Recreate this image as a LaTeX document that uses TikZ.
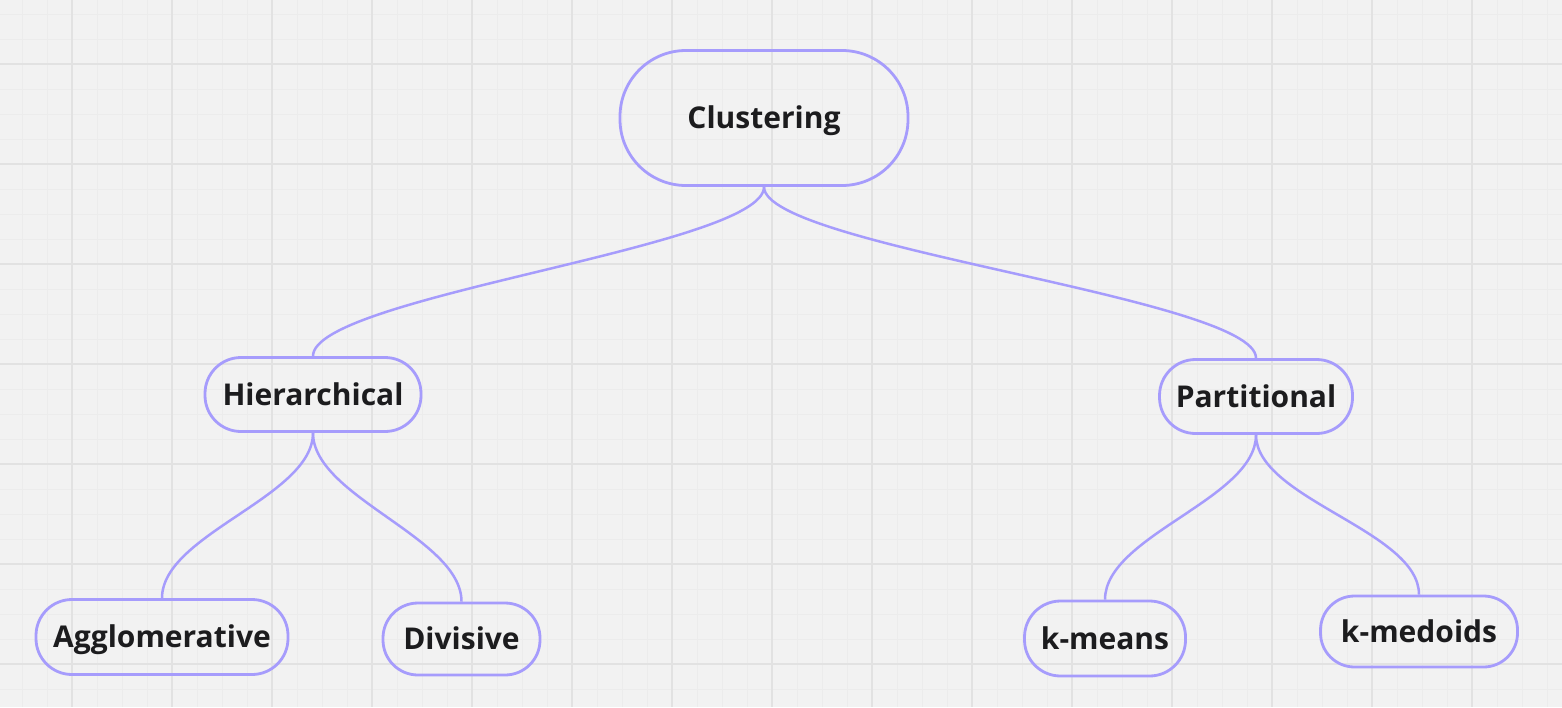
\documentclass[tikz,border=0pt]{standalone}
\usepackage{fontspec}
\setmainfont{Open Sans}
\definecolor{bgc}{RGB}{242,242,242}
\definecolor{minorc}{RGB}{236,236,236}
\definecolor{majorc}{RGB}{226,226,226}
\definecolor{lav}{RGB}{166,156,252}
\definecolor{txt}{RGB}{28,28,30}
\tikzset{
  pill/.style={draw=lav, line width=2.8pt, inner sep=0pt, text=txt,
    font=\fontsize{30}{36}\selectfont\bfseries, text height=21.4pt, text depth=0pt},
  link/.style={draw=lav, line width=2.5pt}
}
\begin{document}
\begin{tikzpicture}[x=1pt,y=-1pt]
\useasboundingbox (0,0) rectangle (1562,707);
\fill[bgc] (0,0) rectangle (1562,707);
% minor grid
\foreach \x in {-3,22,...,1562} \draw[minorc, line width=1pt] (\x,0) -- (\x,707);
\foreach \y in {14,39,...,707} \draw[minorc, line width=1pt] (0,\y) -- (1562,\y);
% major grid
\foreach \x in {72,172,...,1562} \draw[majorc, line width=1.3pt] (\x,0) -- (\x,707);
\foreach \y in {64,164,...,707} \draw[majorc, line width=1.3pt] (0,\y) -- (1562,\y);

\node[pill, minimum width=288pt, minimum height=135pt, rounded corners=66pt] (clu) at (764,118) {Clustering};
\node[pill, minimum width=216pt, minimum height=74pt, rounded corners=36pt] (hie) at (313,394.5) {Hierarchical};
\node[pill, minimum width=193pt, minimum height=74pt, rounded corners=36pt] (par) at (1256,396.5) {Partitional};
\node[pill, minimum width=252pt, minimum height=75pt, rounded corners=36pt] (agg) at (162,637) {Agglomerative};
\node[pill, minimum width=157pt, minimum height=72pt, rounded corners=35pt] (div) at (461.5,639) {Divisive};
\node[pill, minimum width=161pt, minimum height=75pt, rounded corners=36pt] (kme) at (1105,638.5) {k-means};
\node[pill, minimum width=197pt, minimum height=71pt, rounded corners=34pt] (kmd) at (1419,631.5) {k-medoids};

\draw[link] (clu.south) .. controls +(0,60) and +(0,-60) .. (hie.north);
\draw[link] (clu.south) .. controls +(0,60) and +(0,-60) .. (par.north);
\draw[link] (hie.south) .. controls +(0,64) and +(0,-64) .. (agg.north);
\draw[link] (hie.south) .. controls +(0,64) and +(0,-64) .. (div.north);
\draw[link] (par.south) .. controls +(0,64) and +(0,-64) .. (kme.north);
\draw[link] (par.south) .. controls +(0,64) and +(0,-64) .. (kmd.north);
\end{tikzpicture}
\end{document}
